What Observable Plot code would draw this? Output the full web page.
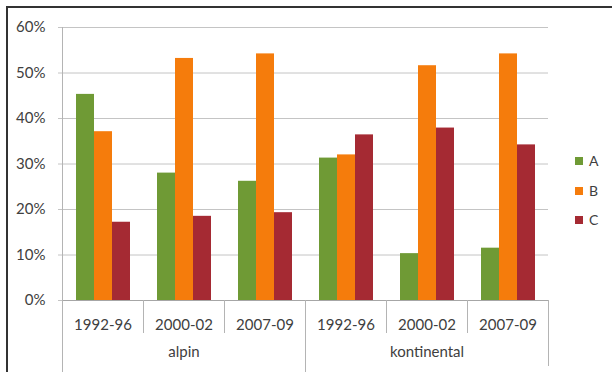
<!DOCTYPE html>
<html>
<head>
<meta charset="utf-8">
<script src="https://cdn.jsdelivr.net/npm/d3@7"></script>
<script src="https://cdn.jsdelivr.net/npm/@observablehq/plot@0.6"></script>
<style>
  body { margin: 0; background: #fff; }
  #wrap { position: relative; width: 612px; height: 372px; overflow: hidden; font-family: Lato, sans-serif; background: #fff; }
  #border { position: absolute; left: 6px; top: 6px; width: 700px; height: 500px; border-top: 2px solid #333; border-left: 2px solid #333; pointer-events: none; }
  #chart { position: absolute; left: 0; top: 0; }
  #legend { position: absolute; left: 575px; top: 0; font-size: 14px; color: #404040; }
  .item { position: absolute; left: 0; white-space: nowrap; height: 16px; line-height: 16px; }
  .sw { display: inline-block; width: 8px; height: 8px; vertical-align: middle; margin-right: 6px; position: relative; top: -1px; }
</style>
</head>
<body>
<div id="wrap">
  <div id="chart"></div>
  <div id="legend"></div>
  <div id="border"></div>
</div>
<script>
const regions = ["alpin", "kontinental"];
const periods = ["1992-96", "2000-02", "2007-09"];
const series = ["A", "B", "C"];
const valuesA = [0.453, 0.280, 0.262, 0.313, 0.103, 0.115];
const valuesB = [0.371, 0.532, 0.542, 0.320, 0.516, 0.542];
const valuesC = [0.172, 0.185, 0.193, 0.364, 0.379, 0.342];
const colors = ["#6f9a35", "#f57c0c", "#a52a33"];
const yTicks = [0, 0.1, 0.2, 0.3, 0.4, 0.5, 0.6];

const keys = [];
regions.forEach(r => periods.forEach(p => keys.push(r + "|" + p)));
const seriesValues = [valuesA, valuesB, valuesC];
const rows = [];
keys.forEach((k, i) => series.forEach((s, j) => rows.push({key: k, series: s, value: seriesValues[j][i]})));
const outer = regions.map(r => ({key: r + "|" + periods[1], label: r}));

const chart = Plot.plot({
  width: 612,
  height: 372,
  marginTop: 27,
  marginBottom: 72,
  marginLeft: 62,
  marginRight: 64,
  style: {fontFamily: "Lato, sans-serif", fontSize: "15px", color: "#404040", background: "transparent", overflow: "visible"},
  fx: {domain: keys, padding: 0, axis: null},
  x: {domain: series, paddingInner: 0, paddingOuter: 0.75, axis: null},
  y: {domain: [0, 0.6], axis: null},
  color: {domain: series, range: colors},
  marks: [
    Plot.gridY(yTicks, {stroke: "#c4c4c4", strokeOpacity: 1}),
    Plot.axisY({ticks: yTicks, tickFormat: d3.format(".0%"), tickSize: 4, tickPadding: 13, stroke: "#c4c4c4", fill: "#404040", label: null, facetAnchor: "left"}),
    Plot.barY(rows, {fx: "key", x: "series", y: "value", fill: "series"}),
    Plot.ruleY([0], {stroke: "#a6a6a6"}),
    Plot.axisFx({anchor: "bottom", tickSize: 0, tickPadding: 19, tickFormat: d => d.split("|")[1], label: null, fill: "#404040"}),
    Plot.text(outer, {fx: "key", text: "label", frameAnchor: "bottom", dy: 56, fill: "#404040"})
  ]
});
document.getElementById("chart").appendChild(chart);

// category separator lines, positioned from the plot's own scales
const fx = chart.scale("fx");
const y = chart.scale("y");
const y0 = y.apply(0);
const g = d3.select(chart).append("g").attr("stroke", "#b4b4b4").attr("stroke-width", 1);
keys.forEach((k, i) => {
  const x = Math.round(fx.apply(k)) + 0.5;
  const full = i % periods.length === 0;
  g.append("line").attr("x1", x).attr("x2", x)
    .attr("y1", full && i === 0 ? y.apply(0.6) : y0)
    .attr("y2", full ? 372 : y0 + 33);
});
const xr = Math.round(fx.apply(keys[keys.length - 1]) + fx.bandwidth) + 0.5;
g.append("line").attr("x1", xr).attr("x2", xr).attr("y1", y0).attr("y2", 366);

// legend
const legendY = [161, 191, 220];
const legend = document.getElementById("legend");
series.forEach((s, i) => {
  const d = document.createElement("div");
  d.className = "item";
  d.style.top = (legendY[i] - 8) + "px";
  d.innerHTML = `<span class="sw" style="background:${colors[i]}"></span>${s}`;
  legend.appendChild(d);
});
</script>
</body>
</html>
